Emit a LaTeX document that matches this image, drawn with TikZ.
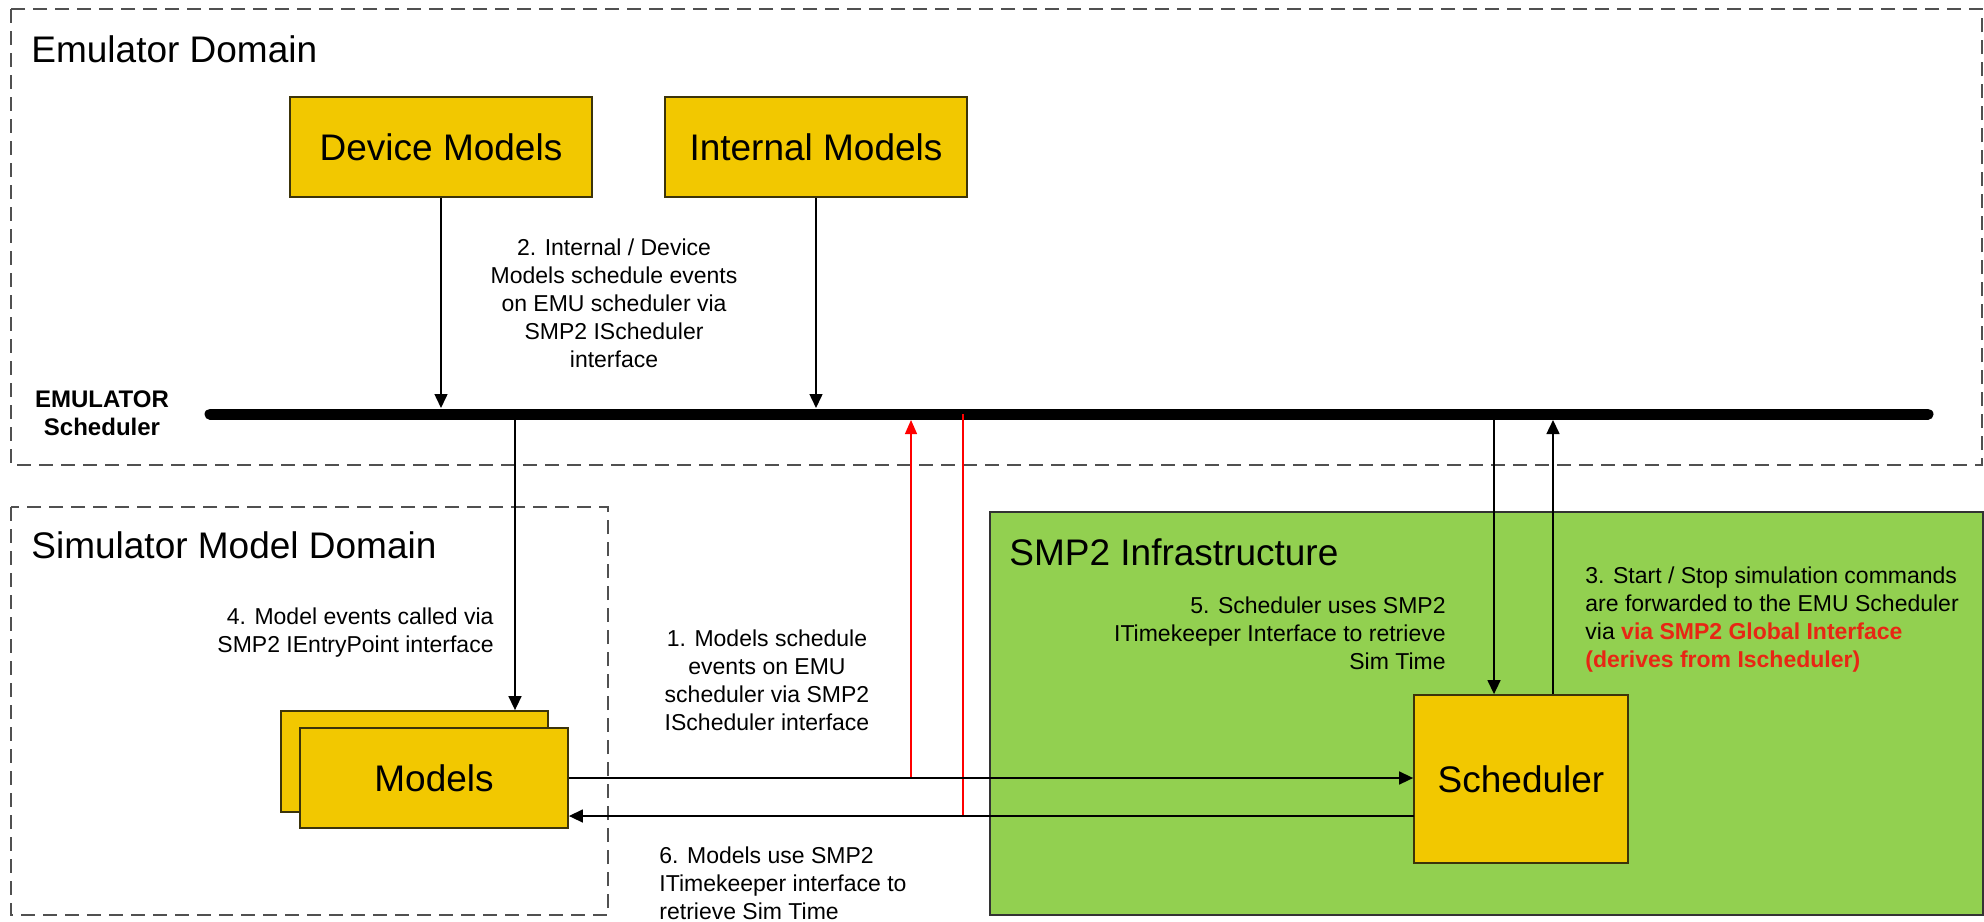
\documentclass[tikz,border=0pt]{standalone}
\usepackage{fontspec}
\setmainfont{Liberation Sans}
\usetikzlibrary{arrows.meta}
\definecolor{boxyellow}{RGB}{242,200,0}
\definecolor{infragreen}{RGB}{146,208,80}
\definecolor{notered}{RGB}{232,38,20}
\definecolor{domainline}{RGB}{80,80,80}
\definecolor{boxedge}{RGB}{60,52,10}
\begin{document}
\begin{tikzpicture}[x=0.5pt,y=-0.5pt,
  domainbox/.style={draw=domainline, line width=1pt, dash pattern=on 7pt off 4pt},
  ybox/.style={draw=boxedge, line width=0.9pt, fill=boxyellow, inner sep=0pt,
    font=\fontsize{18.5}{22}\selectfont},
  heading/.style={inner sep=0pt, font=\fontsize{18.5}{22}\selectfont},
  note/.style={inner sep=0pt, font=\fontsize{11.5}{14}\selectfont},
  flow/.style={draw=black, line width=0.75pt, -{Triangle[length=7pt,width=6.5pt]}},
  link/.style={draw=black, line width=0.75pt},
  redflow/.style={draw=red, line width=0.6pt, -{Triangle[length=7pt,width=6pt]}},
  redlink/.style={draw=red, line width=0.6pt},
]
\useasboundingbox (0,0) rectangle (1984,921);
\fill[white] (0,0) rectangle (1984,921);

% ---------------- domains ----------------
\draw[domainbox] (11,9) rectangle (1982,465);
\node[heading, anchor=base west] (emutitle) at (31,62) {Emulator Domain};

\draw[domainbox] (11,507) rectangle (608,915);
\node[heading, anchor=base west] (simtitle) at (31,558) {Simulator Model Domain};

\draw[fill=infragreen, draw=black!80, line width=0.8pt] (990,512) rectangle (1983,915);
\node[heading, anchor=base west] (smptitle) at (1009,565) {SMP2 Infrastructure};

% ---------------- emulator scheduler bus ----------------
\coordinate (busL) at (210,414);
\coordinate (busR) at (1928,414);
\draw[line width=5.5pt, line cap=round] (busL) -- (busR);
\node[inner sep=0pt, align=center, font=\bfseries\fontsize{12}{14}\selectfont]
  (emusched) at (102,413) {EMULATOR\\Scheduler};

\coordinate (busdev) at (441,408);
\coordinate (busint) at (816,408);
\coordinate (busmod) at (515,414);
\coordinate (busredup) at (911,420);
\coordinate (busreddown) at (963,414);
\coordinate (busschdown) at (1494,414);
\coordinate (busschup) at (1553,420);

% ---------------- model boxes ----------------
\node[ybox, minimum width=151pt, minimum height=50pt] (dev) at (441,147) {Device Models};
\node[ybox, minimum width=151pt, minimum height=50pt] (int) at (816,147) {Internal Models};

\node[ybox, minimum width=133.5pt, minimum height=50.5pt] (modback) at (414.5,761.5) {};
\node[ybox, minimum width=134pt, minimum height=50pt] (models) at (434,778) {Models};

\node[ybox, minimum width=107pt, minimum height=84pt] (sched) at (1521,779) {Scheduler};

% ---------------- connectors ----------------
\draw[flow] (dev.south) -- (busdev);
\draw[flow] (int.south) -- (busint);
\draw[flow] (busmod) -- (busmod |- modback.north);

\coordinate (redfoot) at (911,778);
\coordinate (redend) at (963,816);
\draw[redflow] (redfoot) -- (busredup);
\draw[redlink] (busreddown) -- (redend);

\draw[flow] (models.east) -- (models.east -| sched.west);
\coordinate (schback) at (1414,816);
\draw[flow] (schback) -- (schback -| models.east);

\draw[flow] (busschdown) -- (busschdown |- sched.north);
\draw[flow] (busschup |- sched.north) -- (busschup);

% ---------------- annotations ----------------
\node[note, align=center] (n2) at (614,303)
  {2. Internal / Device\\Models schedule events\\on EMU scheduler via\\SMP2 IScheduler\\interface};
\node[note, align=right, anchor=east] (n4) at (494,633)
  {4. Model events called via\\SMP2 IEntryPoint interface};
\node[note, align=center] (n1) at (767,680)
  {1. Models schedule\\events on EMU\\scheduler via SMP2\\IScheduler interface};
\node[note, align=left, anchor=west] (n6) at (659,883)
  {6. Models use SMP2\\ITimekeeper interface to\\retrieve Sim Time};
\node[note, align=right, anchor=east] (n5) at (1446,633)
  {5. Scheduler uses SMP2\\ITimekeeper Interface to retrieve\\Sim Time};
\node[note, align=left, anchor=west] (n3) at (1585,620)
  {3. Start / Stop simulation commands\\are forwarded to the EMU Scheduler\\via {\color{notered}\bfseries via SMP2 Global Interface}\\{\color{notered}\bfseries (derives from Ischeduler)}};
\end{tikzpicture}
\end{document}
